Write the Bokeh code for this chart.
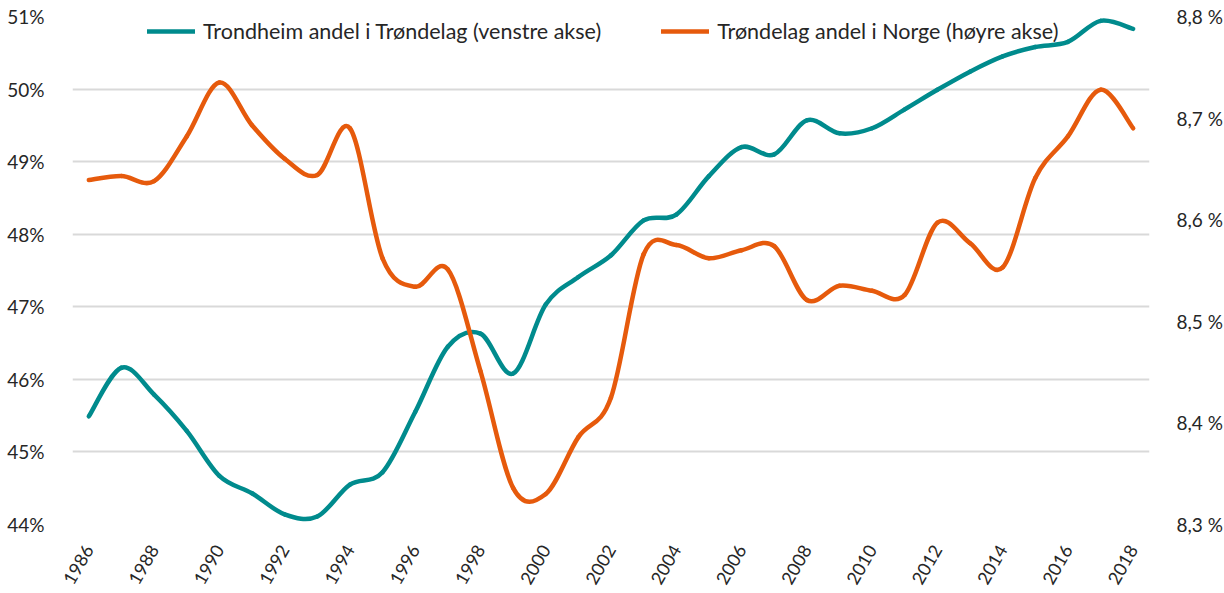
import math
from bokeh.plotting import figure
from bokeh.models import (Range1d, LinearAxis, FixedTicker, CustomJSTickFormatter,
                          ColumnDataSource, Legend, LegendItem)
from bokeh.embed import file_html
from bokeh.resources import INLINE

years = list(range(1986, 2019))
trondheim = [45.49, 46.16, 45.79, 45.29, 44.67, 44.43, 44.14, 44.11, 44.55, 44.72,
             45.55, 46.45, 46.63, 46.08, 47.03, 47.41, 47.71, 48.19, 48.27, 48.80,
             49.20, 49.10, 49.57, 49.39, 49.46, 49.72, 49.99, 50.24, 50.45, 50.58,
             50.65, 50.94, 50.83]
trondelag = [8.639, 8.643, 8.638, 8.682, 8.735, 8.693, 8.660, 8.644, 8.690, 8.562,
             8.534, 8.551, 8.451, 8.336, 8.330, 8.386, 8.425, 8.566, 8.575, 8.562,
             8.570, 8.574, 8.521, 8.535, 8.530, 8.526, 8.597, 8.577, 8.553, 8.641,
             8.682, 8.728, 8.690]
x_ticks = list(range(1986, 2019, 2))
left_ticks = [44, 45, 46, 47, 48, 49, 50, 51]
right_ticks = [8.3, 8.4, 8.5, 8.6, 8.7, 8.8]
label_teal = "Trondheim andel i Trøndelag (venstre akse)"
label_orange = "Trøndelag andel i Norge (høyre akse)"

TEAL = "#008B8D"
ORANGE = "#E65A0C"
FONT = "Lato"
TXT = "#262626"


def smooth_source(xs, ys):
    """Bezier segments (Catmull-Rom control points) through the data points."""
    n = len(xs)
    d = dict(x0=[], y0=[], x1=[], y1=[], cx0=[], cy0=[], cx1=[], cy1=[])
    for i in range(n - 1):
        a = i - 1 if i > 0 else i
        b = i + 2 if i + 2 < n else i + 1
        d["x0"].append(xs[i]); d["y0"].append(ys[i])
        d["x1"].append(xs[i + 1]); d["y1"].append(ys[i + 1])
        d["cx0"].append(xs[i] + (xs[i + 1] - xs[a]) / 6.0)
        d["cy0"].append(ys[i] + (ys[i + 1] - ys[a]) / 6.0)
        d["cx1"].append(xs[i + 1] - (xs[b] - xs[i]) / 6.0)
        d["cy1"].append(ys[i + 1] - (ys[b] - ys[i]) / 6.0)
    return ColumnDataSource(d)


p = figure(frame_width=1077, frame_height=508, output_backend="svg", toolbar_location=None,
           x_range=Range1d(years[0] - 0.5, years[-1] + 0.5),
           y_range=Range1d(left_ticks[0], left_ticks[-1]))
p.extra_y_ranges = {"right": Range1d(right_ticks[0], right_ticks[-1])}
p.min_border_left = 72
p.min_border_right = 66
p.min_border_top = 16
p.min_border_bottom = 60
p.outline_line_color = None
p.background_fill_color = "white"
p.border_fill_color = "white"

# axes
p.xaxis.ticker = FixedTicker(ticks=x_ticks)
p.xaxis.major_label_orientation = math.pi / 3
p.yaxis.ticker = FixedTicker(ticks=left_ticks)
p.yaxis.formatter = CustomJSTickFormatter(code="return tick.toFixed(0) + '%';")

raxis = LinearAxis(y_range_name="right", ticker=FixedTicker(ticks=right_ticks),
                   formatter=CustomJSTickFormatter(code="return tick.toFixed(1).replace('.', ',') + ' %';"))
p.add_layout(raxis, "right")

for ax in [p.xaxis[0], p.yaxis[0], raxis]:
    ax.axis_line_color = None
    ax.major_tick_line_color = None
    ax.minor_tick_line_color = None
    ax.major_label_text_font = FONT
    ax.major_label_text_color = TXT
    ax.major_label_text_font_size = "19px"
p.xaxis.major_label_text_font_size = "18px"
p.xaxis.major_label_standoff = 16
p.yaxis[0].major_label_standoff = 22
raxis.major_label_standoff = 21

p.xgrid.grid_line_color = None
p.ygrid.grid_line_color = "#d9d9d9"
p.ygrid.grid_line_width = 2
p.ygrid.ticker = FixedTicker(ticks=left_ticks)

r1 = p.bezier("x0", "y0", "x1", "y1", "cx0", "cy0", "cx1", "cy1",
              source=smooth_source(years, trondheim), line_color=TEAL, line_width=4.5,
              line_cap="round", line_join="round")
r2 = p.bezier("x0", "y0", "x1", "y1", "cx0", "cy0", "cx1", "cy1",
              source=smooth_source(years, trondelag), line_color=ORANGE, line_width=4.5,
              line_cap="round", line_join="round", y_range_name="right")

legend = Legend(items=[LegendItem(label=label_teal, renderers=[r1]),
                       LegendItem(label=label_orange, renderers=[r2])],
                orientation="horizontal", location=(75, 480))
legend.margin = 0
legend.padding = 0
legend.spacing = 60
legend.glyph_width = 48
legend.glyph_height = 22
legend.label_standoff = 8
legend.label_text_font = FONT
legend.label_text_font_size = "21.5px"
legend.label_text_color = TXT
legend.border_line_alpha = 0
legend.background_fill_alpha = 0
p.add_layout(legend, "center")

open("out.html", "w").write(file_html(p, INLINE))
